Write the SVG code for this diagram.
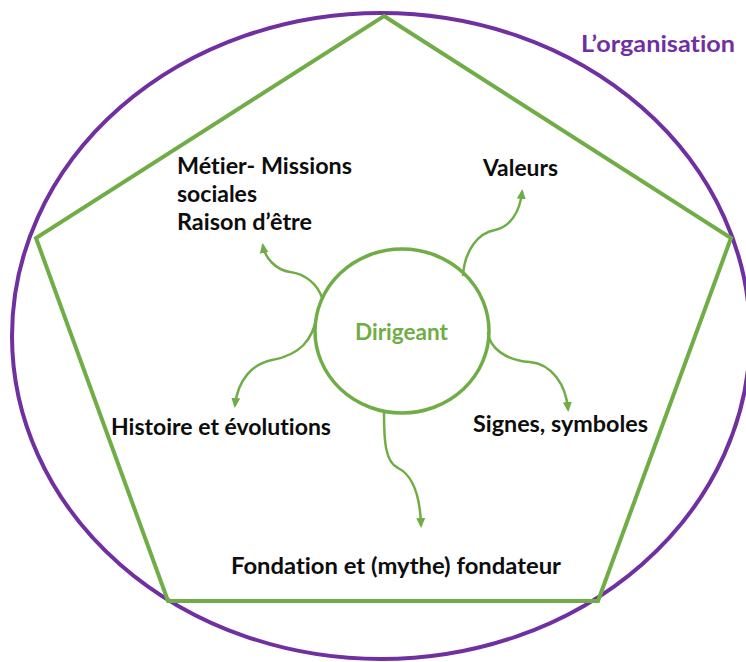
<svg xmlns="http://www.w3.org/2000/svg" width="746" height="662" viewBox="0 0 746 662">
  <defs>
    <style>
      .lbl { font-family: Lato, "Open Sans", "Liberation Sans", sans-serif; font-weight: 700; font-size: 22px; fill: #0d0d0d; font-variant-ligatures: none; font-feature-settings: "liga" 0, "dlig" 0; }
      .green { fill: #70AD47; }
      .purple { fill: #7030A0; }
      .conn { fill: none; stroke: #70AD47; stroke-width: 2.5; stroke-linecap: round; marker-end: url(#arr); }
    </style>
    <marker id="arr" viewBox="0 0 10 10" refX="7" refY="5" markerWidth="10" markerHeight="10" markerUnits="userSpaceOnUse" orient="auto">
      <path d="M0,0.5 L10,5 L0,9.5 z" fill="#70AD47"/>
    </marker>
  </defs>
  <rect width="746" height="662" fill="#ffffff"/>

  <g id="organisation">
    <ellipse cx="381" cy="336" rx="369" ry="323" fill="none" stroke="#7030A0" stroke-width="4"/>
    <text class="lbl purple" x="581" y="52" textLength="154" lengthAdjust="spacingAndGlyphs">L’organisation</text>
  </g>

  <g id="pentagon">
    <polygon points="384,16 731,238 598,601 168,601 36,238" fill="none" stroke="#70AD47" stroke-width="4" stroke-linejoin="miter"/>
  </g>

  <g id="connectors">
    <path class="conn" d="M463,275 C465,250 478,233 495,230 C510,227 520,212 522,192"/>
    <path class="conn" d="M322,298 C318,285 306,274 290,272 C276,270 265,258 263,246"/>
    <path class="conn" d="M317,315 C313,340 300,355 272,360 C252,364 238,380 235,405"/>
    <path class="conn" d="M488,333 C490,348 505,360 530,362 C552,364 566,385 568,409"/>
    <path class="conn" d="M384,413 C384,440 385,462 398,468 C412,475 420,495 421,525"/>
  </g>

  <g id="dirigeant">
    <ellipse cx="402" cy="331" rx="87" ry="82" fill="none" stroke="#70AD47" stroke-width="3.5"/>
    <text class="lbl green" x="355" y="340" textLength="93" lengthAdjust="spacingAndGlyphs">Dirigeant</text>
  </g>

  <g id="valeurs">
    <text class="lbl" x="483" y="176" textLength="75" lengthAdjust="spacingAndGlyphs">Valeurs</text>
  </g>

  <g id="metier">
    <text class="lbl" x="177" y="174" textLength="175" lengthAdjust="spacingAndGlyphs">Métier- Missions</text>
    <text class="lbl" x="177" y="202" textLength="80" lengthAdjust="spacingAndGlyphs">sociales</text>
    <text class="lbl" x="177" y="230" textLength="135" lengthAdjust="spacingAndGlyphs">Raison d’être</text>
  </g>

  <g id="histoire">
    <text class="lbl" x="111" y="435" textLength="220" lengthAdjust="spacingAndGlyphs">Histoire et évolutions</text>
  </g>

  <g id="signes">
    <text class="lbl" x="473" y="432" textLength="175" lengthAdjust="spacingAndGlyphs">Signes, symboles</text>
  </g>

  <g id="fondation">
    <text class="lbl" x="231" y="574" textLength="330" lengthAdjust="spacingAndGlyphs">Fondation et (mythe) fondateur</text>
  </g>
</svg>
